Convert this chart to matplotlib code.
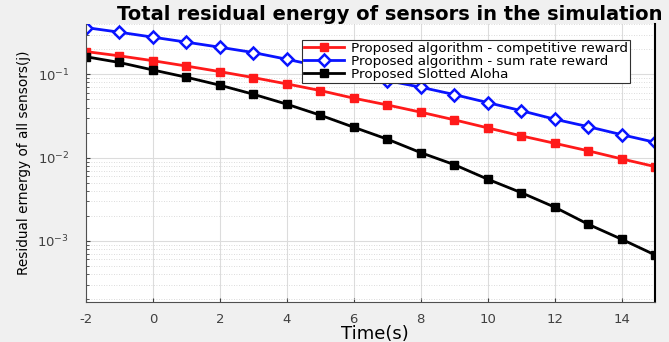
import numpy as np
import matplotlib
matplotlib.use("Agg")
import matplotlib.pyplot as plt

plt.rcParams['font.family'] = ['DejaVu Sans']
plt.rcParams['axes.unicode_minus'] = False

# time steps
t = list(range(-2, 16))

# residual energy (log scale)
competitive = [0.188, 0.167, 0.146, 0.126, 0.108, 0.0916, 0.0769, 0.0640, 0.0518,
               0.0430, 0.0352, 0.0285, 0.0228, 0.0183, 0.0149, 0.0121, 0.00968, 0.00782]
sum_rate = [0.365, 0.321, 0.280, 0.244, 0.212, 0.183, 0.152, 0.125, 0.103,
            0.0843, 0.0702, 0.0573, 0.0459, 0.0367, 0.0290, 0.0236, 0.0189, 0.0153]
aloha = [0.163, 0.139, 0.113, 0.0925, 0.0742, 0.0578, 0.0439, 0.0324, 0.0232,
         0.0167, 0.0115, 0.00826, 0.00552, 0.00381, 0.00255, 0.00159, 0.00105, 0.00068]

labels = ['Proposed algorithm - competitive reward',
          'Proposed algorithm - sum rate reward',
          'Proposed Slotted Aloha']

fig = plt.figure(figsize=(6.69, 3.42), dpi=100)
fig.patch.set_facecolor('#f0f0f0')
ax = fig.add_axes([86/669, 40/342, (655-86)/669, (302-24)/342])
ax.set_facecolor('white')

ax.semilogy(t, competitive, '-s', color='#ff1a1a', lw=2, ms=6,
            mfc='#ff1a1a', mec='#ff1a1a', label=labels[0])
ax.semilogy(t, sum_rate, '-D', color='#0a14ff', lw=2, ms=6.5,
            mfc='white', mec='#0a14ff', mew=1.8, label=labels[1])
ax.semilogy(t, aloha, '-s', color='black', lw=2, ms=6,
            mfc='black', mec='black', label=labels[2])

ax.set_xlim(-2, 15)
ax.set_ylim(1.85e-4, 0.403)
ax.set_xticks(range(-2, 16, 2))
ax.grid(True, which='major', color='#dcdcdc', lw=0.8)
ax.grid(True, which='minor', axis='y', color='#d0d0d0', lw=0.6, ls=(0, (1, 2)))
ax.tick_params(axis='both', which='both', labelsize=9.5, colors='#404040',
               direction='in', length=3)
ax.tick_params(axis='x', pad=8)
ax.tick_params(axis='y', pad=12)
ax.tick_params(axis='y', which='minor', length=2)
for side in ['left', 'bottom']:
    ax.spines[side].set_color('#505050')
ax.spines['right'].set_color('black')
ax.spines['right'].set_linewidth(1.5)
ax.spines['top'].set_visible(False)

ax.set_xlabel('Time(s)', fontsize=13)
ax.xaxis.set_label_coords((375-86)/569, -(334-302)/278)
ax.set_ylabel('Residual ernergy of all sensors(j)', fontsize=9.8)
ax.yaxis.set_label_coords(-(86-24)/569, 0.5)
ax.xaxis.label.set_va('center')
ax.yaxis.label.set_va('center')

fig.text(390/669, 1 - 15/342, 'Total residual energy of sensors in the simulation',
         ha='center', va='center', fontsize=14, fontweight='bold')

leg = ax.legend(loc='upper left', bbox_to_anchor=((302-86)/569, 1 - (40-24)/278),
                fontsize=9.7, handlelength=3, borderpad=0.15, labelspacing=0.0,
                handletextpad=0.5, borderaxespad=0, fancybox=False, framealpha=1,
                edgecolor='#303030')
leg.get_frame().set_linewidth(0.8)

fig.savefig('out.png', dpi=100, facecolor=fig.get_facecolor())
